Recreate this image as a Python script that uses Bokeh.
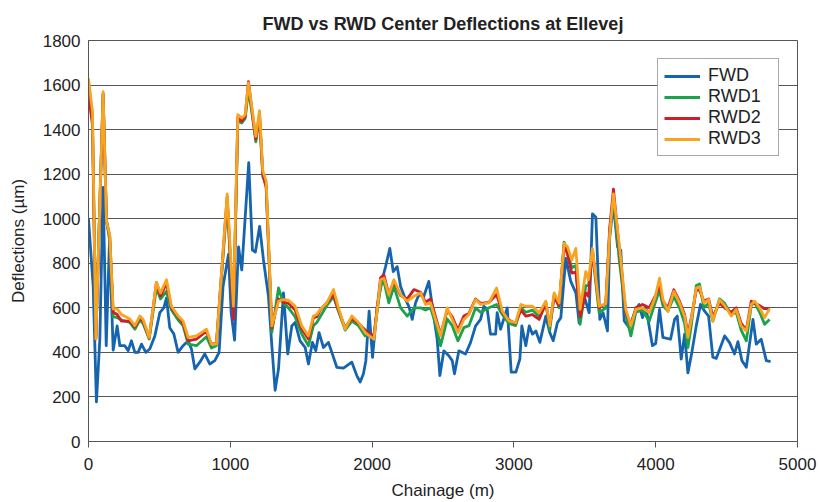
from bokeh.plotting import figure
from bokeh.models import Range1d, Legend, LegendItem, FixedTicker, Title
from bokeh.embed import file_html
from bokeh.resources import INLINE

# ---- data ----
fwd_x = [0, 33, 56, 80, 103, 125, 148, 174, 202, 221, 256, 280, 303, 327, 350, 374, 404, 432,
         468, 503, 531, 550, 573, 602, 632, 667, 703, 726, 750, 785, 820, 855, 891, 921, 949,
         987, 1006, 1030, 1058, 1081, 1130, 1156, 1177, 1207, 1234, 1269, 1293, 1316, 1340,
         1375, 1405, 1434, 1457, 1492, 1528, 1551, 1579, 1603, 1626, 1657, 1692, 1716, 1751,
         1798, 1857, 1892, 1916, 1939, 1956, 1979, 2003, 2036, 2071, 2095, 2125, 2149, 2177,
         2201, 2236, 2259, 2283, 2306, 2330, 2365, 2400, 2436, 2459, 2478, 2506, 2541, 2565,
         2581, 2612, 2659, 2694, 2730, 2765, 2788, 2812, 2835, 2871, 2882, 2906, 2953, 2981,
         3014, 3042, 3056, 3084, 3108, 3131, 3155, 3183, 3225, 3253, 3277, 3307, 3331, 3366,
         3401, 3437, 3460, 3495, 3531, 3554, 3578, 3606, 3629, 3660, 3676, 3702, 3731, 3754,
         3778, 3813, 3860, 3883, 3907, 3930, 3977, 4000, 4027, 4051, 4105, 4133, 4152, 4180,
         4204, 4227, 4255, 4286, 4316, 4345, 4373, 4403, 4427, 4486, 4521, 4556, 4580, 4608,
         4639, 4686, 4709, 4744, 4780, 4810]
fwd = [1000, 697, 178, 460, 1141, 430, 900, 410, 519, 430, 430, 408, 452, 400, 400, 437, 400, 415,
       474, 578, 600, 645, 511, 482, 400, 430, 452, 415, 326, 356, 393, 348, 363, 400, 697,
       840, 580, 455, 874, 770, 1252, 859, 850, 966, 815, 652, 430, 230, 326,
       667, 393, 519, 534, 452, 422, 348, 445, 408, 489, 422, 445, 400, 333,
       329, 356, 296, 267, 304, 363, 585, 378, 607, 726, 785, 867, 763, 785,
       696, 637, 607, 548, 622, 659, 652, 719, 556, 459, 296, 407, 385, 363,
       304, 407, 393, 444, 519, 548, 607, 593, 482, 482, 578, 504, 600, 311,
       311, 370, 519, 430, 519, 482, 496, 445, 563, 489, 452, 533, 556, 822,
       719, 667, 533, 652, 578, 1022, 1007, 548, 578, 496, 919, 1067, 874, 859,
       541, 511, 593, 615, 556, 607, 430, 440, 593, 467, 459, 548, 563, 370,
       482, 308, 400, 519, 615, 585, 563, 378, 373, 474, 444, 393, 448, 363,
       333, 548, 437, 459, 363, 359]

rwd_x = [0, 28, 52, 103, 127, 150, 174, 202, 233, 291, 327, 362, 385, 428, 479, 508, 550, 585,
         632, 667, 703, 761, 832, 867, 902, 978, 1022, 1053, 1081, 1105, 1128, 1156, 1180,
         1206, 1229, 1253, 1293, 1340, 1375, 1410, 1457, 1504, 1551, 1586, 1610, 1634, 1680,
         1728, 1763, 1810, 1857, 1904, 1951, 2013, 2060, 2083, 2118, 2154, 2201, 2248, 2295,
         2342, 2377, 2412, 2447, 2483, 2530, 2565, 2605, 2647, 2683, 2730, 2765, 2824, 2878,
         2918, 2965, 3012, 3049, 3084, 3131, 3178, 3225, 3253, 3284, 3319, 3354, 3378, 3408,
         3437, 3467, 3507, 3526, 3554, 3601, 3648, 3676, 3702, 3742, 3789, 3825, 3860, 3907,
         3954, 3995, 4027, 4051, 4086, 4128, 4168, 4204, 4227, 4251, 4286, 4309, 4340, 4373,
         4403, 4450, 4486, 4533, 4568, 4603, 4639, 4674, 4697, 4733, 4768, 4803]
rwd1 = [1610, 1460, 470, 1560, 990, 900, 560, 556, 545, 535, 504, 545, 530, 460, 690, 640, 674, 590,
        545, 520, 437, 430, 470, 420, 430, 1080, 560, 1440, 1430, 1450, 1580, 1460, 1345,
        1460, 1190, 1150, 490, 689, 620, 600, 560, 482, 430, 520, 534, 560, 610,
        650, 585, 500, 540, 520, 474, 480, 700, 720, 622, 696, 600, 563, 600,
        600, 590, 600, 530, 430, 550, 520, 452, 511, 520, 600, 580, 600, 615,
        570, 530, 520, 600, 580, 590, 560, 625, 500, 660, 600, 895, 850, 780,
        790, 526, 700, 700, 850, 578, 600, 950, 1100, 820, 570, 474, 580, 590,
        540, 620, 680, 610, 585, 650, 600, 530, 422, 520, 700, 707, 600, 620,
        540, 640, 620, 570, 580, 500, 452, 610, 625, 580, 526, 548]
rwd2 = [1560, 1420, 460, 1560, 990, 920, 580, 570, 540, 540, 515, 555, 540, 465, 714, 652, 711, 600,
        560, 530, 452, 459, 495, 437, 440, 1100, 548, 1455, 1437, 1460, 1615, 1470, 1356,
        1470, 1200, 1140, 510, 640, 625, 620, 590, 505, 460, 555, 560, 590, 622,
        660, 590, 510, 555, 530, 500, 470, 735, 748, 660, 720, 655, 640, 682,
        670, 625, 640, 560, 480, 590, 560, 500, 563, 575, 640, 620, 625, 660,
        580, 545, 530, 590, 563, 570, 548, 620, 520, 650, 610, 880, 840, 756,
        760, 560, 667, 652, 860, 600, 620, 960, 1133, 870, 580, 520, 600, 615,
        600, 650, 700, 630, 600, 681, 630, 570, 480, 555, 680, 680, 630, 640,
        560, 622, 600, 580, 600, 530, 500, 630, 620, 610, 596, 596]
rwd3 = [1630, 1480, 460, 1570, 990, 925, 595, 595, 570, 550, 520, 563, 548, 467, 714, 667, 726, 607,
        563, 541, 467, 474, 504, 437, 437, 1111, 608, 1467, 1452, 1467, 1610, 1482, 1370,
        1485, 1215, 1170, 519, 630, 637, 634, 608, 519, 474, 563, 570, 593, 622,
        682, 600, 504, 563, 534, 489, 459, 726, 733, 659, 726, 659, 630, 652,
        667, 615, 622, 548, 474, 600, 548, 489, 548, 570, 637, 615, 622, 689,
        585, 541, 533, 615, 607, 607, 578, 630, 519, 667, 622, 889, 874, 815,
        867, 593, 763, 726, 867, 607, 619, 933, 1111, 889, 593, 519, 593, 600,
        578, 645, 733, 637, 585, 674, 622, 563, 467, 548, 689, 695, 622, 637,
        541, 637, 610, 563, 593, 519, 496, 615, 630, 600, 556, 596]

x_ticks = [0, 1000, 2000, 3000, 4000, 5000]
y_ticks = [0, 200, 400, 600, 800, 1000, 1200, 1400, 1600, 1800]

series = [("FWD", fwd_x, fwd, "#1764ae"),
          ("RWD1", rwd_x, rwd1, "#1ba24b"),
          ("RWD2", rwd_x, rwd2, "#cc1f2b"),
          ("RWD3", rwd_x, rwd3, "#f7a520")]

FONT = "Liberation Sans"
GRID = "#555555"

p = figure(width=819, height=502, output_backend="svg", toolbar_location=None,
           x_range=Range1d(0, 5000), y_range=Range1d(0, 1800),
           min_border_left=88, min_border_right=22, min_border_top=40, min_border_bottom=60)
p.background_fill_color = "white"
p.border_fill_color = "white"
p.outline_line_color = GRID
p.outline_line_width = 1

t = Title(text="FWD vs RWD Center Deflections at Ellevej", align="center",
          text_font=FONT, text_font_size="18px", text_font_style="bold", text_color="#222222",
          offset=0, standoff=14)
p.add_layout(t, "above")

p.xaxis.ticker = FixedTicker(ticks=x_ticks)
p.yaxis.ticker = FixedTicker(ticks=y_ticks)
p.xgrid.visible = False
p.ygrid.grid_line_color = GRID
p.ygrid.grid_line_width = 1

for ax in (p.xaxis[0], p.yaxis[0]):
    ax.axis_line_color = GRID
    ax.major_tick_line_color = GRID
    ax.minor_tick_line_color = None
    ax.major_label_text_font = FONT
    ax.major_label_text_font_size = "17px"
    ax.major_label_text_color = "#222222"
    ax.axis_label_text_font = FONT
    ax.axis_label_text_font_size = "17px"
    ax.axis_label_text_font_style = "normal"
    ax.axis_label_text_color = "#222222"

p.xaxis.major_tick_out = 6
p.xaxis.major_tick_in = 0
p.xaxis.major_label_standoff = 10
p.xaxis.axis_label = "Chainage (m)"
p.xaxis.axis_label_standoff = 8

p.yaxis.major_tick_out = 0
p.yaxis.major_tick_in = 0
p.yaxis.major_label_standoff = 8
p.yaxis.axis_label = "Deflections (µm)"
p.yaxis.axis_label_standoff = 12

items = []
for name, xs, ys, col in series:
    r = p.line(xs, ys, line_color=col, line_width=2.8, line_join="round")
    items.append(LegendItem(label=name, renderers=[r]))

legend = Legend(items=items, location=(569, 285), orientation="vertical",
                label_text_font=FONT, label_text_font_size="18px", label_text_color="#222222",
                glyph_width=36, glyph_height=18, label_height=18, label_width=64,
                label_standoff=8, spacing=0, padding=6, margin=0,
                border_line_color=GRID, border_line_width=1,
                background_fill_color="white", background_fill_alpha=1.0)
p.add_layout(legend, "center")

open("out.html", "w").write(file_html(p, INLINE))
